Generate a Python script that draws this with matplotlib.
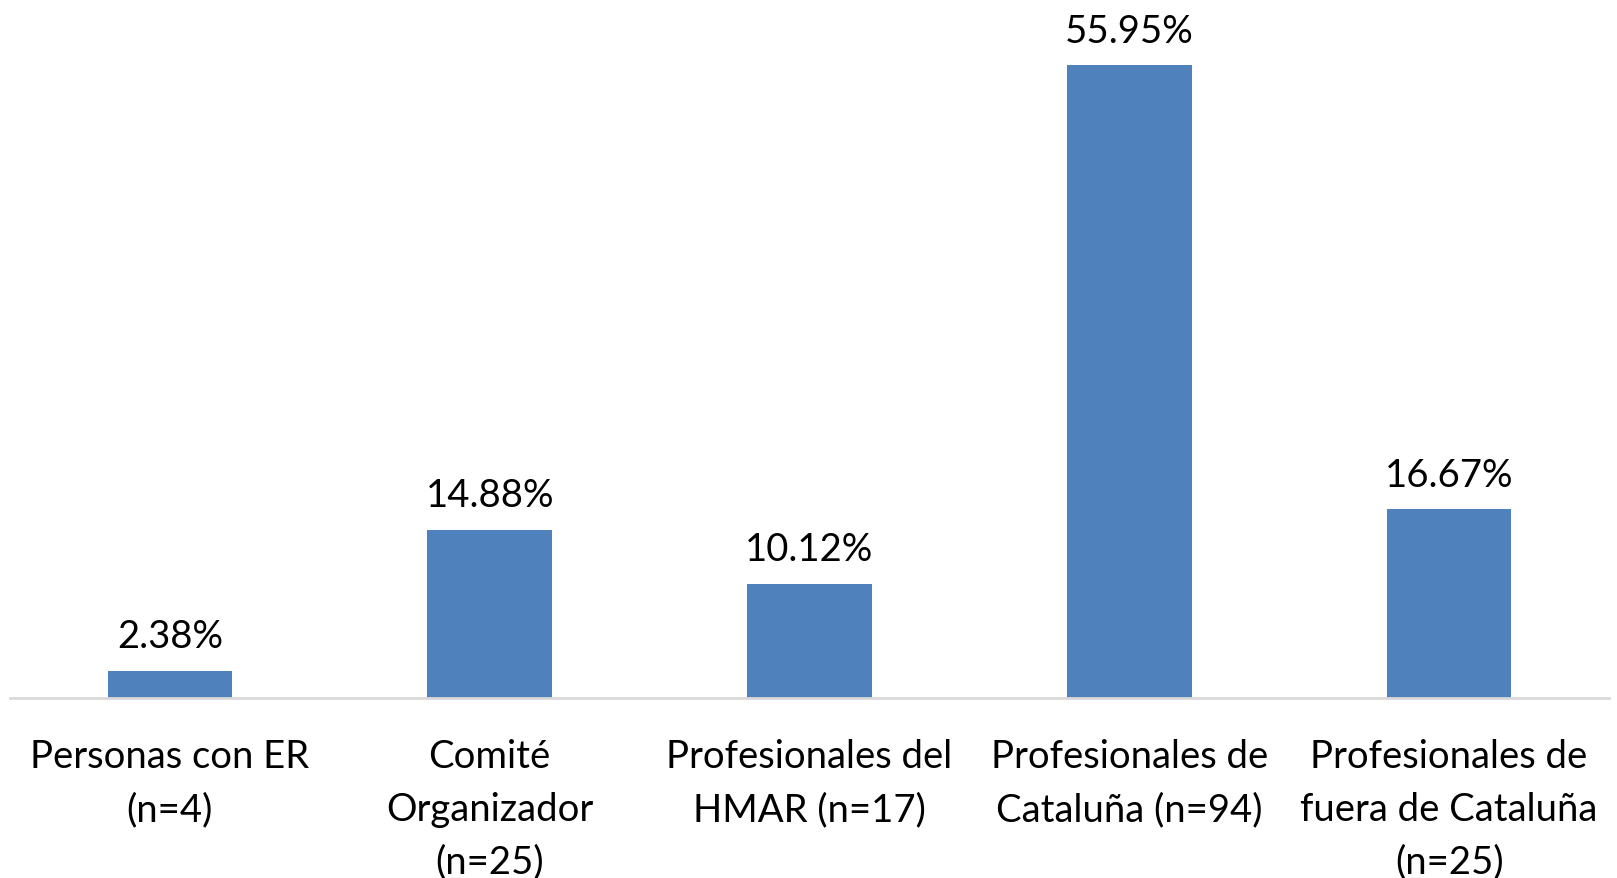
import matplotlib
matplotlib.use("Agg")
import matplotlib.pyplot as plt

categories = [
    "Personas con ER\n(n=4)",
    "Comité\nOrganizador\n(n=25)",
    "Profesionales del\nHMAR (n=17)",
    "Profesionales de\nCataluña (n=94)",
    "Profesionales de\nfuera de Cataluña\n(n=25)",
]
values = [2.38, 14.88, 10.12, 55.95, 16.67]
value_labels = ["2.38%", "14.88%", "10.12%", "55.95%", "16.67%"]

plt.rcParams["font.family"] = ["Lato", "DejaVu Sans"]

fig = plt.figure(figsize=(16.17, 8.79), dpi=100)
ax = fig.add_axes([10 / 1617, 180 / 879, 1599 / 1617, 699 / 879])

x = range(len(categories))
bars = ax.bar(x, values, width=0.39, color="#4F81BD", zorder=2)

for b, lab in zip(bars, value_labels):
    ax.annotate(lab, (b.get_x() + b.get_width() / 2, b.get_height()),
                xytext=(0, 12), textcoords="offset points",
                ha="center", va="bottom", fontsize=27.5, color="black")

ax.set_xlim(-0.5, len(categories) - 0.5)
ax.set_ylim(0, 61.8)
ax.set_xticks(list(x))
ax.set_xticklabels(categories, fontsize=27.5, linespacing=1.57)
ax.tick_params(axis="x", length=0, pad=29)
ax.set_yticks([])
for s in ["top", "right", "left"]:
    ax.spines[s].set_visible(False)
ax.spines["bottom"].set_color("#D9D9D9")
ax.spines["bottom"].set_linewidth(2)

fig.savefig("out.png", dpi=100)
